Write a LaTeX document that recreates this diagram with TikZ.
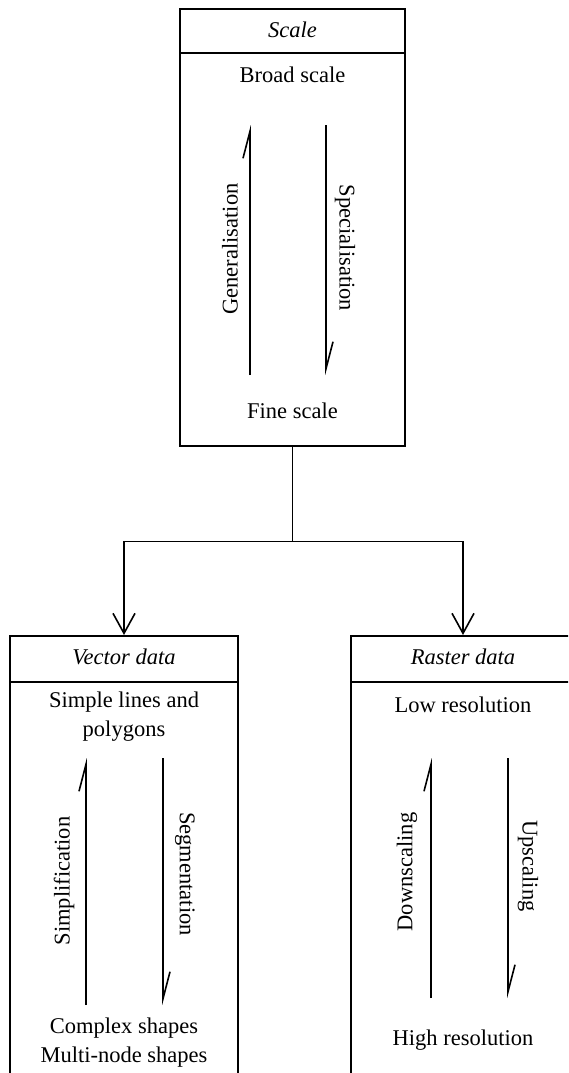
\documentclass[tikz,border=0pt]{standalone}
\usepackage{fontspec}
\setmainfont{Liberation Serif}
\usetikzlibrary{arrows.meta}
\newcommand{\panelfont}{\fontsize{22.5}{29}\selectfont}
\tikzset{%
  >={Straight Barb[length=20pt,width=22pt,line width=1.6pt]},
  % Specifications for style of nodes:
        panel/.style = {rectangle, draw=black, line width=1.6pt,
                        inner sep=0pt, anchor=north},
        title/.style = {font=\panelfont\itshape},
        label/.style = {align=center},
     sidetext/.style = {inner sep=0pt},
      harpoon/.style = {-{Straight Barb[harpoon,length=27pt,width=14pt,line width=1.6pt]},
                        line width=1.6pt},
}

\begin{document}
\begin{tikzpicture}[x=1pt, y=-1pt, line width=1.6pt,
  every node/.style={font=\panelfont}]
\useasboundingbox (0,0) rectangle (568,1073);
\clip (0,0) rectangle (568,1073);
% Panels (position, etc.)
\node (scale)  [panel, minimum width=225pt, minimum height=437pt] at (292.5,8) {};
\node (vector) [panel, minimum width=228pt, minimum height=480pt] at (124,635) {};
\node (raster) [panel, minimum width=224pt, minimum height=480pt] at (463,635) {};
\draw (180,53) -- (405,53);
\draw (10,682) -- (238,682);
\draw (351,682) -- (575,682);
% Texts of the top panel
\node (scalehead) [title] at (292.5,30) {Scale};
\node (broad)     [label] at (292.5,75) {Broad scale};
\node (fine)      [label] at (292.5,411) {Fine scale};
\node (gen)  [sidetext, rotate=90]  at (230,249) {Generalisation};
\node (spec) [sidetext, rotate=-90] at (345,248) {Specialisation};
\coordinate (genlo)  at (250,375);
\coordinate (genhi)  at (250,125);
\coordinate (spechi) at (326,125);
\coordinate (speclo) at (326,375);
\draw[harpoon] (genlo) -- (genhi);
\draw[harpoon] (spechi) -- (speclo);
% Texts of the vector panel
\node (vectorhead) [title] at (124,657) {Vector data};
\node (simple)     [label] at (124,717) {Simple lines and\\polygons};
\node (complex)    [label] at (124,1043) {Complex shapes\\Multi-node shapes};
\node (simp) [sidetext, rotate=90]  at (64,881) {Simplification};
\node (segm) [sidetext, rotate=-90] at (185,874) {Segmentation};
\coordinate (simplo) at (86,1005);
\coordinate (simphi) at (86,758);
\coordinate (segmhi) at (163,758);
\coordinate (segmlo) at (163,1005);
\draw[harpoon] (simplo) -- (simphi);
\draw[harpoon] (segmhi) -- (segmlo);
% Texts of the raster panel
\node (rasterhead) [title] at (463,657) {Raster data};
\node (low)        [label] at (463,705) {Low resolution};
\node (high)       [label] at (463,1040) {High resolution};
\node (down) [sidetext, rotate=90]  at (407,872) {Downscaling};
\node (up)   [sidetext, rotate=-90] at (528,866) {Upscaling};
\coordinate (downlo) at (431,998);
\coordinate (downhi) at (431,758);
\coordinate (uphi)   at (508,758);
\coordinate (uplo)   at (508,998);
\draw[harpoon] (downlo) -- (downhi);
\draw[harpoon] (uphi) -- (uplo);
% Lines between the panels
\draw (scale.south) -- ++(0,95) coordinate (split);
\draw[->] (split) -| (vector.north);
\draw[->] (split) -| (raster.north);
\end{tikzpicture}
\end{document}
